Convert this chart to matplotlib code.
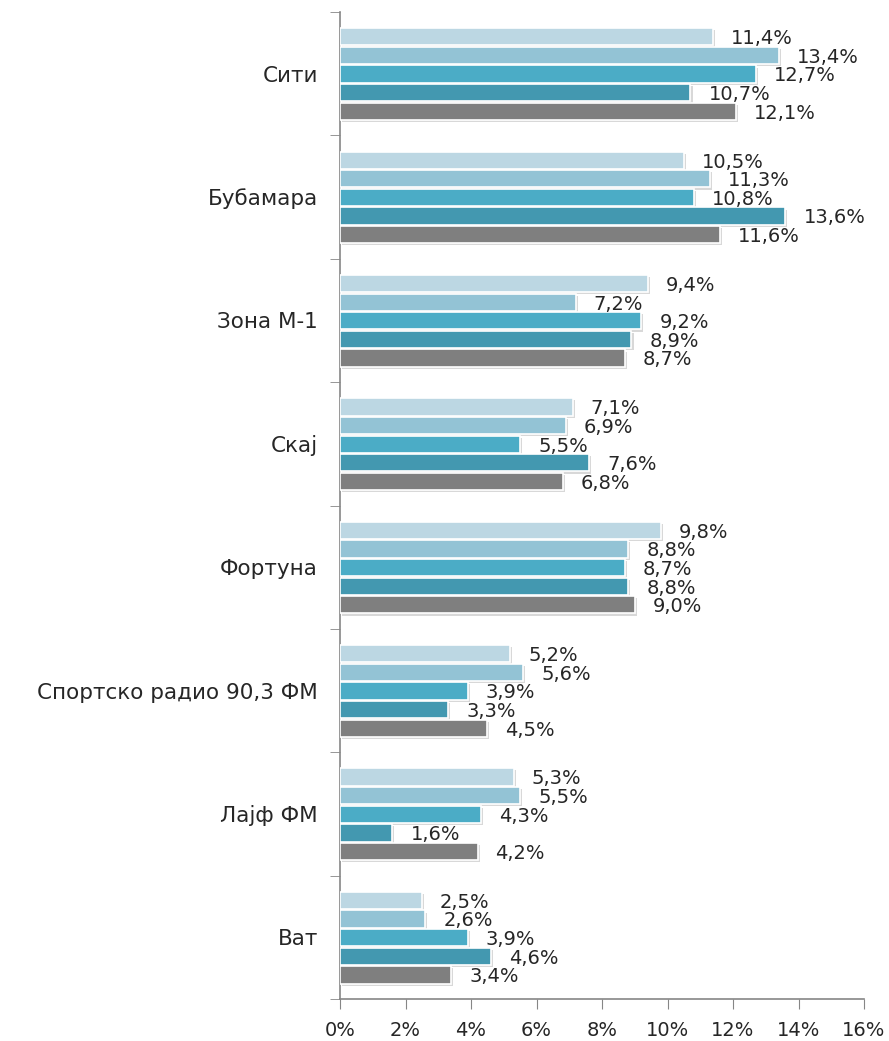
import matplotlib
matplotlib.use("Agg")
import matplotlib.pyplot as plt
import matplotlib.patheffects as pe
import numpy as np

categories = ["Сити", "Бубамара", "Зона М-1", "Скај", "Фортуна",
              "Спортско радио 90,3 ФМ", "Лајф ФМ", "Ват"]
s1 = [11.4, 10.5, 9.4, 7.1, 9.8, 5.2, 5.3, 2.5]
s2 = [13.4, 11.3, 7.2, 6.9, 8.8, 5.6, 5.5, 2.6]
s3 = [12.7, 10.8, 9.2, 5.5, 8.7, 3.9, 4.3, 3.9]
s4 = [10.7, 13.6, 8.9, 7.6, 8.8, 3.3, 1.6, 4.6]
s5 = [12.1, 11.6, 8.7, 6.8, 9.0, 4.5, 4.2, 3.4]
series = [s1, s2, s3, s4, s5]
colors = ["#bcd7e3", "#93c3d5", "#4bacc6", "#4398b0", "#7f7f7f"]
xticks = [0, 2, 4, 6, 8, 10, 12, 14, 16]

plt.rcParams['font.family'] = ['DejaVu Sans']

fig = plt.figure(figsize=(8.89, 10.41), dpi=100)
ax = fig.add_axes([340/889, 1 - 999/1041, 524/889, 987/1041])

n = len(categories)
step = 0.151
h = 0.14
for k, (vals, c) in enumerate(zip(series, colors)):
    ys = [i + 0.5 + (k - 2) * step + 0.003 for i in range(n)]
    bars = ax.barh(ys, vals, height=h, color=c, edgecolor="white", linewidth=1.2,
                   zorder=3)
    for b in bars:
        b.set_path_effects([pe.SimplePatchShadow(offset=(1.5, -1.5), shadow_rgbFace="#c8c8c8", alpha=0.7),
                            pe.Normal()])
    for y, v in zip(ys, vals):
        ax.text(v + 0.55, y + 0.015, f"{v:.1f}%".replace(".", ","), va="center", ha="left",
                fontsize=14, color="#262626", zorder=4)

ax.set_ylim(n, 0)
ax.set_xlim(0, 16)
ax.set_xticks(xticks)
ax.set_xticklabels([f"{t}%" for t in xticks], fontsize=14, color="#262626")
ax.set_yticks([i + 0.5 for i in range(n)])
ax.set_yticklabels(categories, fontsize=15.5, color="#262626")
ax.set_yticks(list(range(n + 1)), minor=True)
ax.tick_params(axis="y", which="major", length=0, pad=16)
ax.tick_params(axis="y", which="minor", length=7, color="#868686", direction="out")
ax.tick_params(axis="x", length=7, color="#868686", direction="out", pad=9)
for s in ["top", "right"]:
    ax.spines[s].set_visible(False)
for s in ["left", "bottom"]:
    ax.spines[s].set_color("#868686")
    ax.spines[s].set_linewidth(1.2)

fig.savefig("out.png", dpi=100)
